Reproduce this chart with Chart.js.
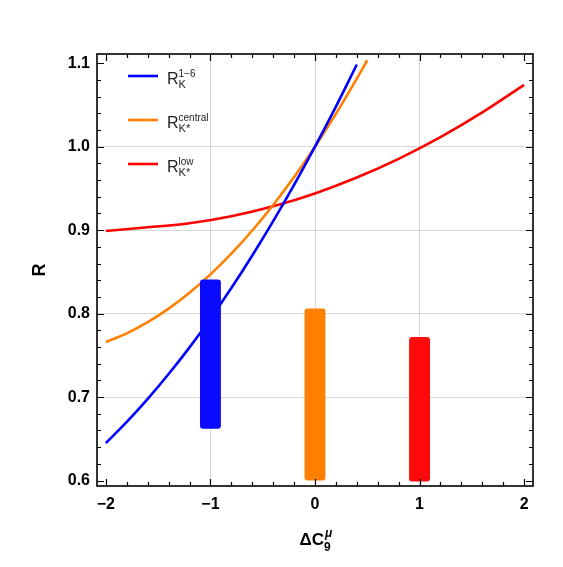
<!DOCTYPE html>
<html>
<head>
<meta charset="utf-8">
<script src="https://cdn.jsdelivr.net/npm/chart.js@4"></script>
<style>
  html, body { margin: 0; padding: 0; background: #fff; }
  #box { width: 563px; height: 567px; }
</style>
</head>
<body>
<div id="box"><canvas id="myChart" width="563" height="567"></canvas></div>
<script>
// values
var blueX = [-2, -1.8, -1.6, -1.4, -1.2, -1, -0.8, -0.6, -0.4, -0.2, 0, 0.2, 0.4];
var blueR = [0.645, 0.6702, 0.6978, 0.7276, 0.7596, 0.794, 0.8306, 0.8696, 0.9108, 0.9542, 1.0, 1.048, 1.0984];
var orangeX = [-2, -1.8, -1.6, -1.4, -1.2, -1, -0.8, -0.6, -0.4, -0.2, 0, 0.2, 0.4, 0.5];
var orangeR = [0.766, 0.7764, 0.7898, 0.806, 0.825, 0.847, 0.8718, 0.8996, 0.9302, 0.9636, 1.0, 1.0392, 1.0814, 1.1035];
var redX = [-2, -1.6, -1.2, -0.8, -0.4, 0, 0.4, 0.8, 1.2, 1.6, 2];
var redR = [0.899, 0.9034, 0.9082, 0.9166, 0.9286, 0.944, 0.963, 0.9854, 1.0114, 1.041, 1.074];

var barX = [-1, 0, 1];
var barLow = [0.662, 0.600, 0.599];
var barHigh = [0.841, 0.806, 0.772];
var barColors = ["#0a0aff", "#ff8000", "#ff0a0a"];

var xTicks = [-2, -1, 0, 1, 2];
var yTicks = [0.6, 0.7, 0.8, 0.9, 1.0, 1.1];

function pts(xs, ys) {
  return xs.map(function (x, i) { return { x: x, y: ys[i] }; });
}

var FONT = "'Liberation Sans', Arial, sans-serif";

// draws base text with a subscript and a superscript stacked after it
function richText(ctx, x, y, base, sub, sup, baseFont, subFont, supFont, subDy, supDy) {
  ctx.font = baseFont;
  ctx.fillText(base, x, y);
  var w = ctx.measureText(base).width;
  ctx.font = subFont;
  ctx.fillText(sub, x + w, y + subDy);
  ctx.font = supFont;
  ctx.fillText(sup, x + w, y + supDy);
}

var framePlugin = {
  id: "frame",
  afterDraw: function (chart) {
    var ctx = chart.ctx;
    var a = chart.chartArea;
    var xs = chart.scales.x, ys = chart.scales.y;
    ctx.save();
    ctx.strokeStyle = "#000";
    ctx.lineWidth = 1.6;
    ctx.strokeRect(a.left, a.top, a.right - a.left, a.bottom - a.top);

    ctx.lineWidth = 1.2;
    ctx.beginPath();
    // x ticks, inward top and bottom
    for (var i = 0; i <= 20; i++) {
      var v = -2 + i * 0.2;
      var len = (i % 5 === 0) ? 7 : 4;
      var px = Math.round(xs.getPixelForValue(v)) + 0.5;
      ctx.moveTo(px, a.bottom); ctx.lineTo(px, a.bottom - len);
      ctx.moveTo(px, a.top); ctx.lineTo(px, a.top + len);
    }
    // y ticks, inward left and right
    for (var j = 0; j <= 25; j++) {
      var w = 0.6 + j * 0.02;
      var l2 = (j % 5 === 0) ? 7 : 4;
      var py = Math.round(ys.getPixelForValue(w)) + 0.5;
      ctx.moveTo(a.left, py); ctx.lineTo(a.left + l2, py);
      ctx.moveTo(a.right, py); ctx.lineTo(a.right - l2, py);
    }
    ctx.stroke();

    // legend
    var legend = [
      { c: "#0000ff", y: 76, sub: "K", sup: "1\u22126" },
      { c: "#ff8000", y: 120, sub: "K*", sup: "central" },
      { c: "#ff0000", y: 164, sub: "K*", sup: "low" }
    ];
    legend.forEach(function (it) {
      ctx.strokeStyle = it.c;
      ctx.lineWidth = 2.6;
      ctx.beginPath();
      ctx.moveTo(128, it.y); ctx.lineTo(158, it.y);
      ctx.stroke();
      ctx.fillStyle = "#222";
      ctx.textBaseline = "alphabetic";
      ctx.textAlign = "left";
      richText(ctx, 167, it.y + 8, "R", it.sub, it.sup,
        "16px " + FONT, "11px " + FONT, "10px " + FONT, 4, -7);
    });

    // axis titles
    ctx.fillStyle = "#000";
    ctx.font = "bold 17px " + FONT;
    var wBase = ctx.measureText("\u0394C").width;
    ctx.font = "bold 12px " + FONT;
    var wSub = ctx.measureText("9").width;
    var x0 = (a.left + a.right) / 2 - (wBase + wSub) / 2;
    richText(ctx, x0, 545, "\u0394C", "9", "",
      "bold 17px " + FONT, "bold 12px " + FONT, "bold italic 12px " + FONT, 6, -8);
    ctx.font = "bold italic 12px " + FONT;
    ctx.fillText("\u03bc", x0 + wBase + 1, 537);

    ctx.save();
    ctx.translate(40, (a.top + a.bottom) / 2);
    ctx.rotate(-Math.PI / 2);
    ctx.textAlign = "center";
    ctx.textBaseline = "middle";
    ctx.font = "bold 18px " + FONT;
    ctx.fillText("R", 0, 0);
    ctx.restore();
    ctx.restore();
  }
};

function gridColor(ends) {
  return function (c) {
    if (!c.tick) return "transparent";
    return ends.indexOf(c.tick.value) >= 0 ? "transparent" : "rgba(0,0,0,0.16)";
  };
}

function curve(xs, ys, color) {
  return {
    type: "line",
    data: pts(xs, ys),
    borderColor: color,
    borderWidth: 2.6,
    pointRadius: 0,
    fill: false,
    cubicInterpolationMode: "monotone",
    order: 1
  };
}

new Chart("myChart", {
  type: "scatter",
  data: {
    datasets: [
      {
        type: "bar",
        data: barX.map(function (x, i) { return { x: x, y: [barLow[i], barHigh[i]] }; }),
        backgroundColor: barColors,
        borderWidth: 0,
        borderRadius: 3,
        borderSkipped: false,
        barPercentage: 0.2,
        categoryPercentage: 1,
        order: 0
      },
      curve(blueX, blueR, "#0000ff"),
      curve(orangeX, orangeR, "#ff8000"),
      curve(redX, redR, "#ff0000")
    ]
  },
  options: {
    responsive: false,
    animation: false,
    devicePixelRatio: 1,
    layout: { padding: { top: 54, right: 30, left: 0, bottom: 0 } },
    plugins: { legend: { display: false }, tooltip: { enabled: false } },
    scales: {
      x: {
        type: "linear",
        offset: false,
        min: -2.085,
        max: 2.085,
        afterBuildTicks: function (s) { s.ticks = xTicks.map(function (v) { return { value: v }; }); },
        afterFit: function (s) { s.height = 81; },
        grid: { color: gridColor([-2, 2]), drawTicks: false, lineWidth: 1, offset: false },
        border: { display: false },
        ticks: {
          padding: 9,
          color: "#000",
          font: { family: FONT, size: 16, weight: "bold" },
          callback: function (v) { return v < 0 ? "\u2212" + Math.abs(v) : String(v); }
        }
      },
      y: {
        type: "linear",
        min: 0.5935,
        max: 1.111,
        afterBuildTicks: function (s) { s.ticks = yTicks.map(function (v) { return { value: v }; }); },
        afterFit: function (s) { s.width = 97; },
        grid: { color: gridColor([0.6, 1.1]), drawTicks: false, lineWidth: 1 },
        border: { display: false },
        ticks: {
          padding: 7,
          color: "#000",
          font: { family: FONT, size: 16, weight: "bold" },
          callback: function (v) { return v.toFixed(1); }
        }
      }
    }
  },
  plugins: [framePlugin]
});
</script>
</body>
</html>
